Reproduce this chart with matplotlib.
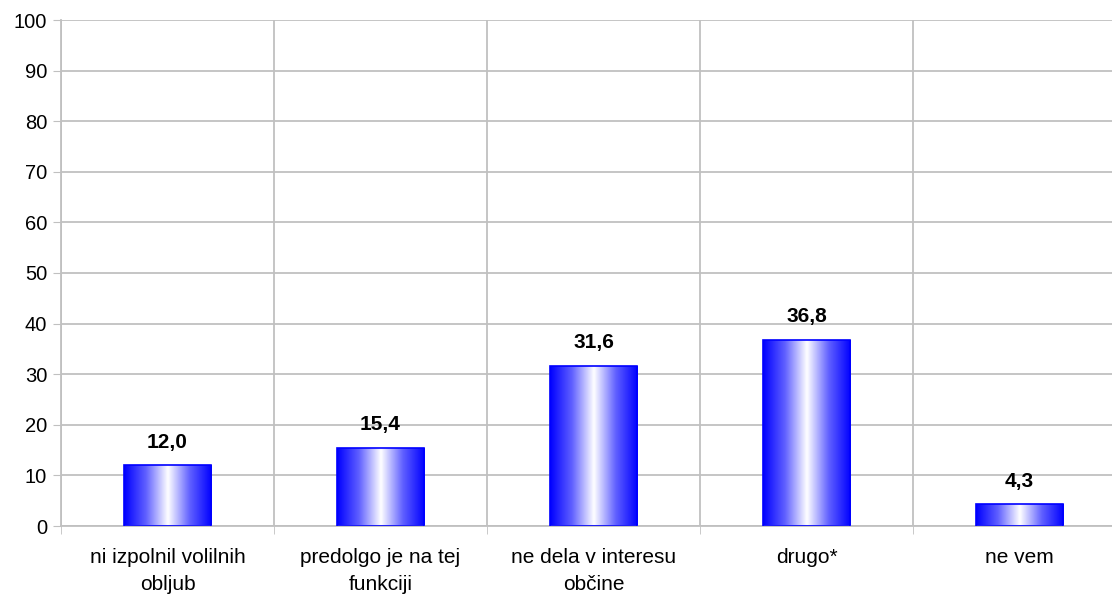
import numpy as np
import matplotlib
matplotlib.use("Agg")
import matplotlib.pyplot as plt
from matplotlib.colors import LinearSegmentedColormap

plt.rcParams['font.family'] = ['Liberation Sans', 'DejaVu Sans']

categories = ["ni izpolnil volilnih\nobljub", "predolgo je na tej\nfunkciji",
              "ne dela v interesu\nobčine", "drugo*", "ne vem"]
values = [12.0, 15.4, 31.6, 36.8, 4.3]
yticks = [0, 10, 20, 30, 40, 50, 60, 70, 80, 90, 100]

fig = plt.figure(figsize=(11.12, 5.94), dpi=100)
ax = fig.add_axes([61/1112, 68/594, 1065/1112, 506/594])

x = np.arange(len(values))
bars = ax.bar(x, values, width=0.41, color='none', edgecolor='#0000ff', linewidth=1.2, zorder=3)

# horizontal gradient blue - white - blue
cmap = LinearSegmentedColormap.from_list('bw', ['#0000ff', '#6060ff', '#ffffff', '#6060ff', '#0000ff'])
grad = np.linspace(0, 1, 256).reshape(1, -1)
for b in bars:
    x0, y0 = b.get_x(), b.get_y()
    w, h = b.get_width(), b.get_height()
    im = ax.imshow(grad, cmap=cmap, aspect='auto', extent=[x0, x0 + w, y0, y0 + h],
                   zorder=2, interpolation='bicubic')
    im.set_clip_path(b)
    ax.text(x0 + w / 2, h + 3.5, f"{h:.1f}".replace('.', ','), ha='center', va='baseline',
            fontsize=15, fontweight='bold')

ax.set_xlim(-0.5, len(values) - 0.5)
ax.set_ylim(0, 100)
ax.set_yticks(yticks)
ax.tick_params(axis='y', labelsize=14.5, length=6, color='#c0c0c0', pad=4)

ax.set_xticks(x)
ax.set_xticklabels(categories, fontsize=15, linespacing=1.5)
ax.tick_params(axis='x', length=0, pad=16)

# category separators
ax.set_xticks(np.arange(-0.5, len(values)), minor=True)
ax.tick_params(axis='x', which='minor', length=6, color='#c0c0c0')
ax.grid(axis='x', which='minor', color='#c0c0c0', linewidth=1.3)
ax.grid(axis='y', which='major', color='#c0c0c0', linewidth=1.3)
ax.set_axisbelow(True)

for s in ['top', 'right']:
    ax.spines[s].set_visible(False)
for s in ['left', 'bottom']:
    ax.spines[s].set_color('#c0c0c0')
    ax.spines[s].set_linewidth(1.3)

fig.savefig('out.png', dpi=100)
